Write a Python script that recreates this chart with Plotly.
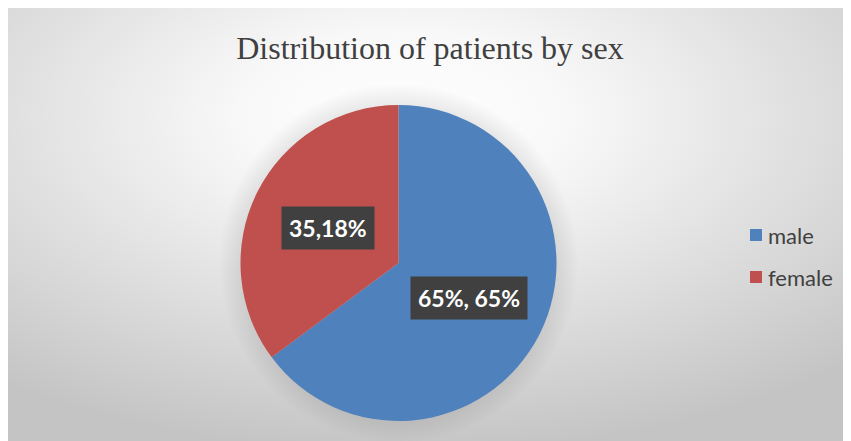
import base64
import math
import plotly.graph_objects as go

# data
labels = ["male", "female"]
values = [64.82, 35.18]
label_texts = ["65%, 65%", "35,18%"]
colors = ["#4F81BD", "#C0504D"]

# page body has an 8px margin; the figure div starts at (8, 8)
OFF = 8
W, H = 851 - OFF, 441 - OFF
# pie placement (page pixels)
PIE_CX, PIE_CY, PIE_R = 398.5, 263, 158


def px_x(x):
    return (x - OFF) / W


def px_y(y):
    return 1 - (y - OFF) / H


# background: radial gradient + soft pie shadow, as an inline svg
scx, scy = PIE_CX - OFF, PIE_CY - OFF
svg = f"""<svg xmlns='http://www.w3.org/2000/svg' width='{W}' height='{H}' viewBox='0 0 {W} {H}' preserveAspectRatio='none'>
<defs>
<radialGradient id='bg' cx='0.47' cy='0.25' r='0.78'>
<stop offset='0' stop-color='#ffffff'/>
<stop offset='0.25' stop-color='#f8f8f8'/>
<stop offset='1' stop-color='#c4c4c4'/>
</radialGradient>
<radialGradient id='sh' gradientUnits='userSpaceOnUse' cx='{scx}' cy='{scy}' r='{PIE_R + 22}'>
<stop offset='0.85' stop-color='#000000' stop-opacity='0.10'/>
<stop offset='1' stop-color='#000000' stop-opacity='0'/>
</radialGradient>
</defs>
<rect x='0' y='0' width='{W}' height='{H}' fill='url(#bg)'/>
<circle cx='{scx}' cy='{scy}' r='{PIE_R + 22}' fill='url(#sh)'/>
</svg>"""
bg_src = "data:image/svg+xml;base64," + base64.b64encode(svg.encode()).decode()

fig = go.Figure(go.Pie(
    labels=labels,
    values=values,
    sort=False,
    direction="clockwise",
    rotation=0,
    marker=dict(colors=colors, line=dict(width=0)),
    textinfo="none",
    hoverinfo="label+percent",
    showlegend=False,
    domain=dict(x=[px_x(PIE_CX - PIE_R), px_x(PIE_CX + PIE_R)],
                y=[px_y(PIE_CY + PIE_R), px_y(PIE_CY - PIE_R)]),
))

# data labels at half radius along each slice's mid angle
annotations = []
total = sum(values)
start = 0.0
for val, txt in zip(values, label_texts):
    mid = (start + val / 2) / total * 2 * math.pi
    start += val
    lx = PIE_CX + 0.5 * PIE_R * math.sin(mid)
    ly = PIE_CY - 0.5 * PIE_R * math.cos(mid)
    annotations.append(dict(
        x=px_x(lx), y=px_y(ly), xref="paper", yref="paper",
        xanchor="center", yanchor="middle",
        text=txt, showarrow=False, bgcolor="#404040", borderpad=7,
        font=dict(family="Lato", size=23, color="white", weight="bold"),
    ))

# legend
shapes = []
leg_y = [235, 277]
for lab, col, ly in zip(labels, colors, leg_y):
    shapes.append(dict(type="rect", xref="paper", yref="paper",
                       x0=px_x(750), x1=px_x(762), y0=px_y(ly + 6), y1=px_y(ly - 6),
                       fillcolor=col, line=dict(width=0)))
    annotations.append(dict(x=px_x(766), y=px_y(ly), xref="paper", yref="paper",
                            text=lab, showarrow=False, xanchor="left", yanchor="middle",
                            font=dict(family="Lato", size=22, color="#404040")))

fig.update_layout(
    width=W, height=H,
    margin=dict(l=0, r=0, t=0, b=0),
    paper_bgcolor="white",
    title=dict(text="Distribution of patients by sex", x=px_x(430), xanchor="center",
               y=px_y(48), yanchor="middle",
               font=dict(family="Liberation Serif", size=32, color="#404040")),
    images=[dict(source=bg_src, xref="paper", yref="paper",
                 x=0, y=1, sizex=1, sizey=1,
                 sizing="stretch", layer="below", xanchor="left", yanchor="top")],
    shapes=shapes,
    annotations=annotations,
)

fig.write_html("out.html")
